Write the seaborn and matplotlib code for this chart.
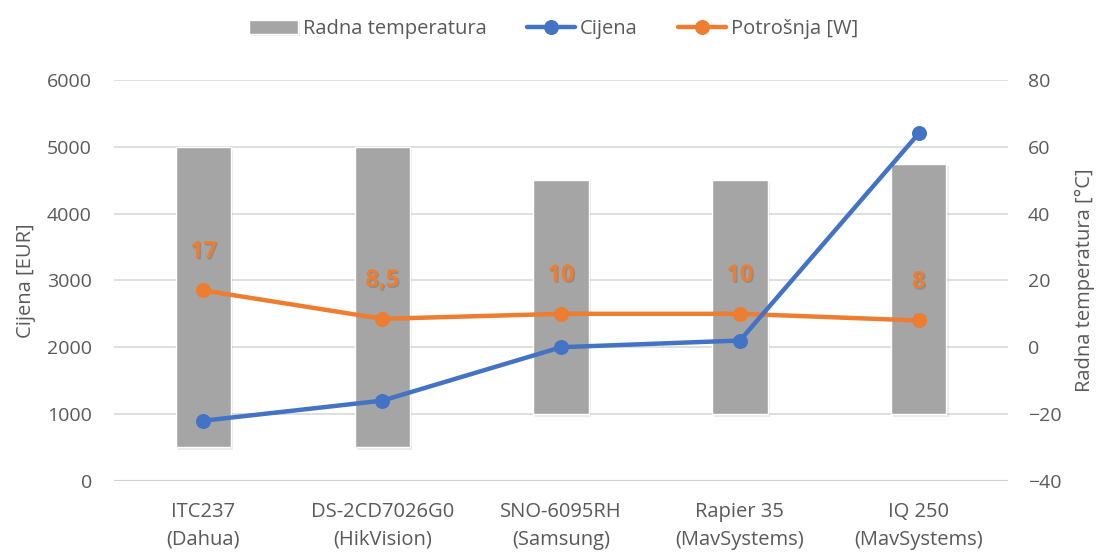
import matplotlib
matplotlib.use("Agg")
import matplotlib.pyplot as plt
import matplotlib.patheffects as pe
import seaborn as sns
import pandas as pd
import numpy as np

categories = ["ITC237\n(Dahua)", "DS-2CD7026G0\n(HikVision)", "SNO-6095RH\n(Samsung)",
              "Rapier 35\n(MavSystems)", "IQ 250\n(MavSystems)"]
temp_min = [-30, -30, -20, -20, -20]
temp_max = [60, 60, 50, 50, 55]
cijena = [900, 1200, 2000, 2100, 5200]
potrosnja = [17, 8.5, 10, 10, 8]
potrosnja_labels = ["17", "8,5", "10", "10", "8"]

sns.set_theme(style="white")
plt.rcParams['font.family'] = ['Open Sans', 'DejaVu Sans']

grey_txt = "#595959"
blue = "#4472C4"
orange = "#ED7D31"
bar_c = "#A5A5A5"

fig = plt.figure(figsize=(10.97, 5.52), dpi=100)
ax = fig.add_axes([0.104, 0.129, 0.815, 0.726])
ax2 = ax.twinx()

x = np.arange(len(categories))
df = pd.DataFrame({"x": x, "cijena": cijena, "potrosnja": potrosnja})

# bars (floating range) on temperature axis
heights = [t - b for t, b in zip(temp_max, temp_min)]
bars = ax.bar(x, heights, bottom=temp_min, width=0.31, color=bar_c, zorder=2,
              label="Radna temperatura")
for b in bars:
    b.set_path_effects([pe.SimplePatchShadow(offset=(1.5, -2), shadow_rgbFace="#000000", alpha=0.08), pe.Normal()])

# orange line on temperature axis
sns.lineplot(data=df, x="x", y="potrosnja", ax=ax, color=orange, linewidth=3.2,
             marker="o", markersize=10, markeredgecolor=orange, zorder=4, label="Potrošnja [W]",
             legend=False)
for xi, v, lab in zip(x, potrosnja, potrosnja_labels):
    ax.annotate(lab, (xi, v), xytext=(0, 19), textcoords="offset points", ha="center",
                va="bottom", color=orange, fontsize=17, fontweight="bold",
                path_effects=[pe.withSimplePatchShadow(offset=(1, -1), shadow_rgbFace="#000000", alpha=0.15)])

# blue line on price axis
sns.lineplot(data=df, x="x", y="cijena", ax=ax2, color=blue, linewidth=3.2,
             marker="o", markersize=10, markeredgecolor=blue, zorder=4, label="Cijena",
             legend=False)

ax.set_ylim(-40, 80)
ax.set_yticks(range(-40, 81, 20))
ax2.set_ylim(0, 6000)
ax2.set_yticks(range(0, 6001, 1000))
ax.set_xlim(-0.5, 4.5)
ax.set_xticks(x)
ax.set_xticklabels(categories, fontsize=14.5, color=grey_txt, linespacing=1.55)

ax.yaxis.tick_right()
ax.yaxis.set_label_position("right")
ax2.yaxis.tick_left()
ax2.yaxis.set_label_position("left")

ax.grid(axis="y", color="#D9D9D9", linewidth=1.2)
ax.set_axisbelow(True)
for a in (ax, ax2):
    for s in a.spines.values():
        s.set_visible(False)
    a.tick_params(axis="both", length=0, labelsize=14, labelcolor=grey_txt)
ax.tick_params(axis="x", labelsize=14.5)
ax.tick_params(axis="y", pad=14)
ax2.tick_params(axis="y", pad=16)
ax.tick_params(axis="x", pad=15)
ax.set_xlabel("")
ax2.set_xlabel("")
ax.set_ylabel("Radna temperatura [°C]", fontsize=14.5, color=grey_txt, labelpad=10)
ax2.set_ylabel("Cijena [EUR]", fontsize=14.5, color=grey_txt, labelpad=8)

# bottom axis line
ax.axhline(-40, color="#D0D0D0", linewidth=1.5, zorder=1)

h1, l1 = ax.get_legend_handles_labels()
h2, l2 = ax2.get_legend_handles_labels()
hd = dict(zip(l1 + l2, h1 + h2))
order = ["Radna temperatura", "Cijena", "Potrošnja [W]"]
fig.legend([hd[o] for o in order], order, loc="center", bbox_to_anchor=(0.505, 0.948), ncol=3,
           frameon=False, fontsize=14.5, labelcolor=grey_txt, handlelength=2.4,
           columnspacing=2.0, handletextpad=0.25)

fig.savefig("out.png", dpi=100)
